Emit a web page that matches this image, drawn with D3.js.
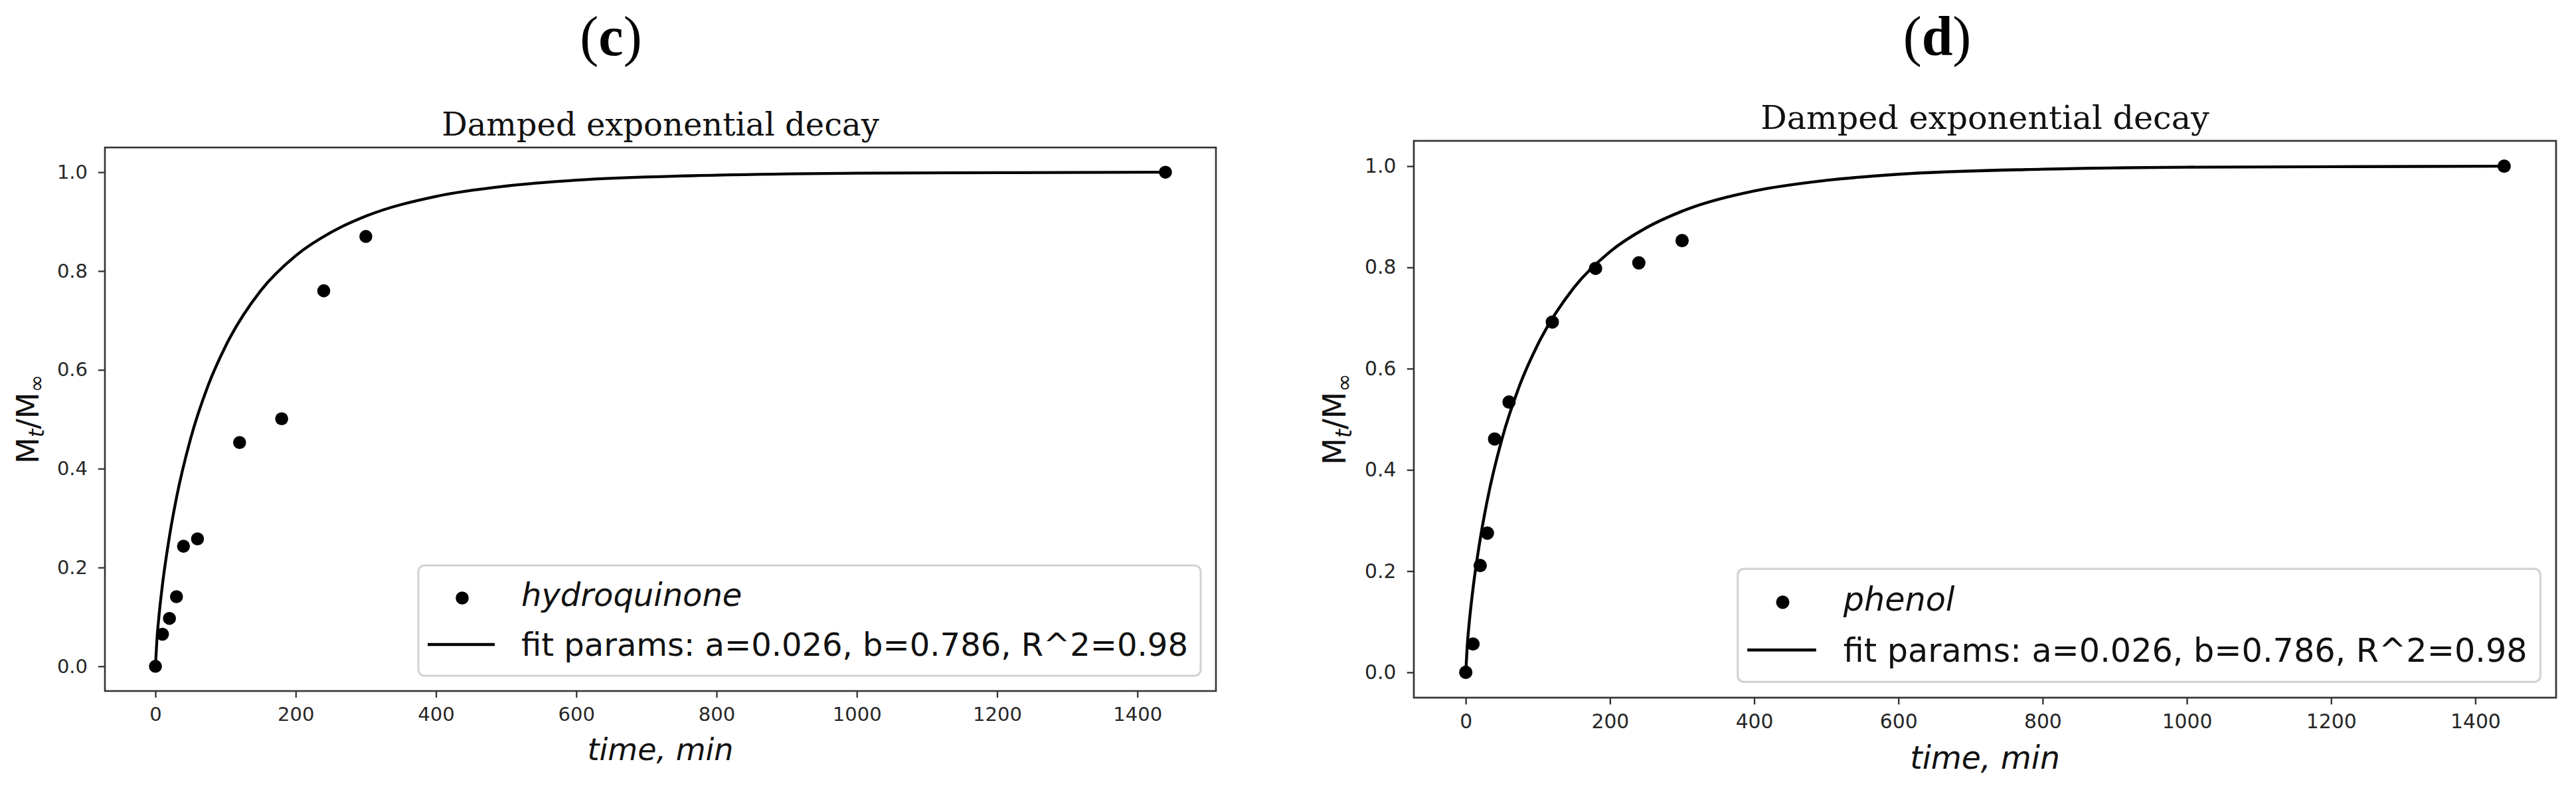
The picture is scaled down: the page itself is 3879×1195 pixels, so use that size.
<!DOCTYPE html>
<html>
<head>
<meta charset="utf-8">
<script src="https://cdn.jsdelivr.net/npm/d3@7"></script>
<style>
  html, body { margin: 0; padding: 0; background: #fff; }
  svg { display: block; }
</style>
</head>
<body>
<svg id="chart" width="3879" height="1195"></svg>
<script>
// ---- data ----
const timeMin = [0, 10, 20, 30, 40, 60, 120, 180, 240, 300, 1440];
const hydroquinone = [0, 0.065, 0.097, 0.141, 0.243, 0.258, 0.453, 0.501, 0.760, 0.870, 1.0];
const phenol = [0, 0.056, 0.211, 0.275, 0.461, 0.534, 0.692, 0.798, 0.809, 0.853, 1.0];

// fitted curve (same in both panels)
const fitTime = [0, 2, 5, 10, 20, 30, 50, 75, 100, 150, 200, 250, 300, 400, 500, 600, 800, 1000, 1200, 1440];
const fitValue = [0, 0.051, 0.101, 0.165, 0.263, 0.341, 0.460, 0.568, 0.648, 0.760, 0.831, 0.878, 0.911, 0.951, 0.972, 0.984, 0.994, 0.998, 0.999, 1.000];

const xTicks = [0, 200, 400, 600, 800, 1000, 1200, 1400];
const yTicks = [0.0, 0.2, 0.4, 0.6, 0.8, 1.0];
const xDomain = [-72, 1512];
const yDomain = [-0.05, 1.05];

const titleText = "Damped exponential decay";
const fitLabel = "fit params: a=0.026, b=0.786, R^2=0.98";
const panels = [
  { letter: "c", series: "hydroquinone", values: hydroquinone,
    x0: 158, x1: 1831, y0: 222, y1: 1040, s: 1.0, letterX: 920 },
  { letter: "d", series: "phenol", values: phenol,
    x0: 2129, x1: 3849, y0: 212, y1: 1050, s: 1.026, letterX: 2917 }
];

const svg = d3.select("#chart");
svg.append("rect").attr("width", 3879).attr("height", 1195).attr("fill", "#fff");

const SANS = "'DejaVu Sans', sans-serif";
const SERIF = "'DejaVu Serif', serif";

panels.forEach(p => {
  const s = p.s;
  const x = d3.scaleLinear().domain(xDomain).range([p.x0, p.x1]);
  const y = d3.scaleLinear().domain(yDomain).range([p.y1, p.y0]);
  const g = svg.append("g");

  // panel letter "(c)" / "(d)"
  const lt = g.append("text")
    .attr("x", p.letterX).attr("y", 83)
    .attr("text-anchor", "middle")
    .attr("font-family", "'Liberation Serif', serif")
    .attr("font-size", 84).attr("fill", "#000");
  lt.append("tspan").text("(");
  lt.append("tspan").attr("font-weight", "bold").text(p.letter);
  lt.append("tspan").text(")");

  // title
  g.append("text")
    .attr("x", (p.x0 + p.x1) / 2).attr("y", p.y0 - 18 * s)
    .attr("text-anchor", "middle")
    .attr("font-family", SERIF).attr("font-size", 48 * s)
    .attr("fill", "#111").text(titleText);

  // axes
  const xAxis = d3.axisBottom(x).tickValues(xTicks).tickFormat(d => String(d))
    .tickSize(10 * s).tickPadding(14 * s).tickSizeOuter(0);
  const yAxis = d3.axisLeft(y).tickValues(yTicks).tickFormat(d3.format(".1f"))
    .tickSize(10 * s).tickPadding(16 * s).tickSizeOuter(0);

  const gx = g.append("g").attr("transform", `translate(0,${p.y1})`).call(xAxis);
  const gy = g.append("g").attr("transform", `translate(${p.x0},0)`).call(yAxis);
  [gx, gy].forEach(a => {
    a.select(".domain").remove();
    a.selectAll(".tick line").attr("stroke", "#333").attr("stroke-width", 2.3 * s);
    a.selectAll(".tick text").attr("font-family", SANS).attr("font-size", 29 * s)
      .attr("fill", "#262626");
  });

  // fit curve
  const fitPts = fitTime.map((t, i) => [t, fitValue[i]]);
  g.append("path").datum(fitPts)
    .attr("d", d3.line().x(d => x(d[0])).y(d => y(d[1])).curve(d3.curveMonotoneX))
    .attr("fill", "none").attr("stroke", "#000").attr("stroke-width", 4.3 * s);

  // data points
  const pts = timeMin.map((t, i) => [t, p.values[i]]);
  g.append("g").selectAll("circle").data(pts).join("circle")
    .attr("cx", d => x(d[0])).attr("cy", d => y(d[1]))
    .attr("r", 9.8 * s).attr("fill", "#000");

  // frame
  g.append("rect")
    .attr("x", p.x0).attr("y", p.y0)
    .attr("width", p.x1 - p.x0).attr("height", p.y1 - p.y0)
    .attr("fill", "none").attr("stroke", "#333").attr("stroke-width", 2.6 * s);

  // axis labels
  g.append("text")
    .attr("x", (p.x0 + p.x1) / 2).attr("y", p.y1 + 104 * s)
    .attr("text-anchor", "middle")
    .attr("font-family", SANS).attr("font-style", "italic")
    .attr("font-size", 46 * s).attr("fill", "#111")
    .text("time, min");

  const yl = g.append("text")
    .attr("transform", `translate(${p.x0 - 100 * s},${(p.y0 + p.y1) / 2}) rotate(-90)`)
    .attr("text-anchor", "middle")
    .attr("font-family", SANS).attr("font-size", 46 * s).attr("fill", "#111");
  yl.append("tspan").text("M");
  yl.append("tspan").attr("font-style", "italic").attr("font-size", 32 * s)
    .attr("dy", 8 * s).text("t");
  yl.append("tspan").attr("dy", -8 * s).text("/M");
  yl.append("tspan").attr("font-size", 32 * s).attr("dy", 8 * s).text("\u221E");

  // legend
  const lw = 1178 * s, lh = 166 * s;
  const L = p.x1 - 23 * s - lw, T = p.y1 - 23 * s - lh;
  const lg = g.append("g");
  lg.append("rect")
    .attr("x", L).attr("y", T).attr("width", lw).attr("height", lh)
    .attr("rx", 9 * s).attr("fill", "#fff").attr("fill-opacity", 0.85)
    .attr("stroke", "#d2d2d2").attr("stroke-width", 3 * s);
  lg.append("circle").attr("cx", L + 66 * s).attr("cy", T + 49 * s)
    .attr("r", 9.8 * s).attr("fill", "#000");
  lg.append("text").attr("x", L + 155 * s).attr("y", T + 61 * s)
    .attr("font-family", SANS).attr("font-style", "italic")
    .attr("font-size", 48 * s).attr("fill", "#111").text(p.series);
  lg.append("line")
    .attr("x1", L + 14 * s).attr("x2", L + 115 * s)
    .attr("y1", T + 119 * s).attr("y2", T + 119 * s)
    .attr("stroke", "#000").attr("stroke-width", 4.3 * s);
  lg.append("text").attr("x", L + 155 * s).attr("y", T + 136 * s)
    .attr("font-family", SANS)
    .attr("font-size", 48 * s).attr("fill", "#111").text(fitLabel);
});
</script>
</body>
</html>
